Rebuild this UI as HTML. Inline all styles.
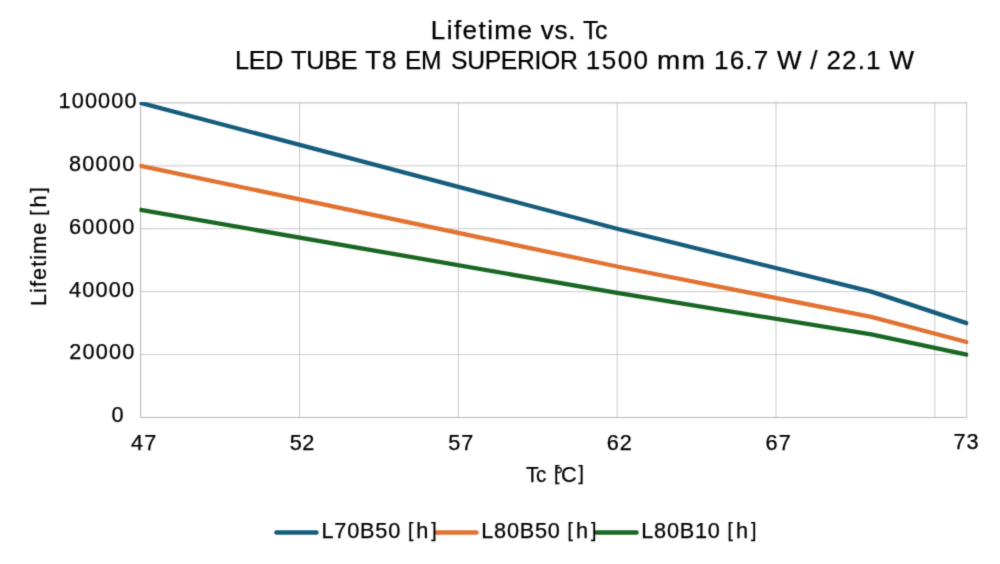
<!DOCTYPE html>
<html lang="en">
<head>
<meta charset="utf-8">
<title>Lifetime vs. Tc</title>
<style>
html,body{margin:0;padding:0;background:#fff;}
body{width:1000px;height:564px;position:relative;overflow:hidden;font-family:"Liberation Sans",sans-serif;color:#000;}
#page{position:absolute;left:0;top:0;width:1000px;height:564px;background:#fff;filter:url(#soft);}
.chart{position:absolute;left:0;top:0;display:block;}
.t{position:absolute;white-space:pre;line-height:1;height:1em;margin:0;padding:0;-webkit-text-stroke:0.25px #000;}
.w{display:inline-block;position:relative;white-space:pre;transform-origin:0 0;}
.b{font-size:0.895em;top:-1.4px;}
</style>
</head>
<body>
<svg width="0" height="0" style="position:absolute" aria-hidden="true"><filter id="soft" x="0" y="0" width="100%" height="100%" color-interpolation-filters="sRGB"><feConvolveMatrix order="3" kernelMatrix="0.0177 0.0976 0.0177 0.0976 0.5389 0.0976 0.0177 0.0976 0.0177" divisor="1" edgeMode="duplicate" preserveAlpha="true"/></filter></svg>
<div id="page">
<svg class="chart" width="1000" height="564" viewBox="0 0 1000 564">
<g fill="none" stroke="#cacaca" stroke-width="1">
<line x1="299.49" y1="102.90" x2="299.49" y2="417.50"/>
<line x1="458.32" y1="102.90" x2="458.32" y2="417.50"/>
<line x1="617.16" y1="102.90" x2="617.16" y2="417.50"/>
<line x1="776.00" y1="102.90" x2="776.00" y2="417.50"/>
<line x1="934.83" y1="102.90" x2="934.83" y2="417.50"/>
<line x1="140.65" y1="354.58" x2="966.60" y2="354.58"/>
<line x1="140.65" y1="291.66" x2="966.60" y2="291.66"/>
<line x1="140.65" y1="228.74" x2="966.60" y2="228.74"/>
<line x1="140.65" y1="165.82" x2="966.60" y2="165.82"/>
</g>
<path d="M966.60 102.90V417.50H140.65V102.90H966.60" fill="none" stroke="#b6b6b6" stroke-width="1" stroke-linecap="square"/>
<line x1="966.60" y1="103.90" x2="966.60" y2="416.50" stroke="#fff" stroke-opacity="0.25" stroke-width="1.2"/>
<defs><clipPath id="plot"><rect x="139.45" y="102.00" width="828.85" height="316.60"/></clipPath></defs>
<g clip-path="url(#plot)" fill="none" stroke-width="4.3" stroke-linejoin="round" stroke-linecap="round">
<path d="M140.65 102.90 L617.16 228.74 L871.30 291.66 L966.60 323.12" stroke="#165d7d"/>
<path d="M140.65 165.82 L617.16 266.49 L871.30 316.83 L966.60 342.00" stroke="#e27232"/>
<path d="M140.65 209.86 L617.16 292.92 L871.30 334.45 L966.60 354.58" stroke="#186723"/>
</g>
<g fill="none" stroke-width="4.4" stroke-linecap="round">
<line x1="276.40" y1="532.55" x2="316.50" y2="532.55" stroke="#165d7d"/>
<line x1="436.40" y1="532.55" x2="476.50" y2="532.55" stroke="#e27232"/>
<line x1="596.40" y1="532.55" x2="636.50" y2="532.55" stroke="#186723"/>
</g>
</svg>
<div class="t" id="title1" style="left:430.87px;top:16.99px;font-size:26px;"><span class="w" style="width:109.82px;letter-spacing:1.43px;">Lifetime </span><span class="w" style="width:42.43px;letter-spacing:0.78px;">vs. </span><span class="w" style="letter-spacing:-0.35px;transform:scaleX(0.9553);">Tc</span></div>
<div class="t" id="title2" style="left:234.93px;top:47.19px;font-size:26px;"><span class="w" style="width:55.89px;letter-spacing:-0.35px;transform:scaleX(0.9687);">LED </span><span class="w" style="width:74.45px;letter-spacing:-0.35px;transform:scaleX(0.9760);">TUBE </span><span class="w" style="width:40.22px;letter-spacing:0.91px;">T8 </span><span class="w" style="width:45.4px;letter-spacing:-0.35px;transform:scaleX(0.9443);">EM </span><span class="w" style="width:135.02px;letter-spacing:-0.35px;transform:scaleX(0.9504);">SUPERIOR </span><span class="w" style="width:71.23px;letter-spacing:1.46px;">1500 </span><span class="w" style="width:57px;letter-spacing:1.5px;transform:scaleX(1.0709);">mm </span><span class="w" style="width:62.93px;letter-spacing:1.16px;">16.7 </span><span class="w" style="width:33.18px;">W </span><span class="w" style="width:16.29px;">/ </span><span class="w" style="width:63.17px;letter-spacing:1.17px;">22.1 </span><span class="w">W</span></div>
<div class="t" id="y100" style="left:58.45px;top:90.13px;font-size:21.7px;"><span class="w" style="letter-spacing:1.16px;">100000</span></div>
<div class="t" id="y80" style="left:69.06px;top:152.63px;font-size:21.7px;"><span class="w" style="letter-spacing:1.21px;">80000</span></div>
<div class="t" id="y60" style="left:69px;top:215.93px;font-size:21.7px;"><span class="w" style="letter-spacing:1.24px;">60000</span></div>
<div class="t" id="y40" style="left:69.1px;top:278.93px;font-size:21.7px;"><span class="w" style="letter-spacing:1.19px;">40000</span></div>
<div class="t" id="y20" style="left:69.21px;top:341.03px;font-size:21.7px;"><span class="w" style="letter-spacing:1.21px;">20000</span></div>
<div class="t" id="y0" style="left:111.41px;top:403.83px;font-size:21.7px;"><span class="w">0</span></div>
<div class="t" id="x47" style="left:131px;top:432.13px;font-size:21.7px;"><span class="w" style="letter-spacing:1.13px;">47</span></div>
<div class="t" id="x52" style="left:289.63px;top:432.13px;font-size:21.7px;"><span class="w" style="letter-spacing:0.6px;">52</span></div>
<div class="t" id="x57" style="left:448.23px;top:432.13px;font-size:21.7px;"><span class="w" style="letter-spacing:0.91px;">57</span></div>
<div class="t" id="x62" style="left:606.8px;top:432.13px;font-size:21.7px;"><span class="w" style="letter-spacing:0.99px;">62</span></div>
<div class="t" id="x67" style="left:765.5px;top:432.13px;font-size:21.7px;"><span class="w" style="letter-spacing:1.29px;">67</span></div>
<div class="t" id="x73" style="left:953.49px;top:431.13px;font-size:21.7px;"><span class="w" style="letter-spacing:1.02px;">73</span></div>
<div class="t" id="xt" style="left:525.93px;top:463.63px;font-size:21.7px;"><span class="w" style="width:28.15px;letter-spacing:-0.35px;transform:scaleX(0.9550);">Tc </span><span class="w b" style="width:0.46px;">[</span><span class="w" style="width:6.56px;top:1px;">°</span><span class="w" style="width:17.53px;">C</span><span class="w b">]</span></div>
<div class="t" id="yt" style="left:27.93px;top:305.88px;font-size:21.7px;transform:rotate(-90deg);transform-origin:0 0;"><span class="w" style="width:90.36px;letter-spacing:1.04px;">Lifetime </span><span class="w b" style="width:8.16px;">[</span><span class="w" style="width:14.81px;">h</span><span class="w b">]</span></div>
<div class="t" id="l1" style="left:321.52px;top:520.23px;font-size:21.7px;"><span class="w" style="width:86.36px;letter-spacing:0.78px;">L70B50 </span><span class="w b" style="width:8.41px;">[</span><span class="w" style="width:15.05px;">h</span><span class="w b">]</span></div>
<div class="t" id="l2" style="left:481.22px;top:520.23px;font-size:21.7px;"><span class="w" style="width:86.36px;letter-spacing:0.78px;">L80B50 </span><span class="w b" style="width:8.41px;">[</span><span class="w" style="width:15.05px;">h</span><span class="w b">]</span></div>
<div class="t" id="l3" style="left:641.22px;top:520.23px;font-size:21.7px;"><span class="w" style="width:86.36px;letter-spacing:0.78px;">L80B10 </span><span class="w b" style="width:8.41px;">[</span><span class="w" style="width:15.05px;">h</span><span class="w b">]</span></div>
</div>
</body>
</html>
